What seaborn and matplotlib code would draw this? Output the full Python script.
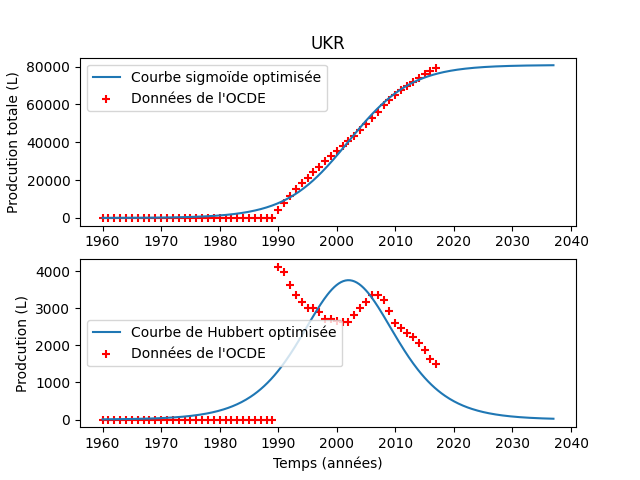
import numpy as np
import pandas as pd
import seaborn as sns
import matplotlib
matplotlib.use("Agg")
import matplotlib.pyplot as plt

# annual production (1990-2017), zero before 1990
YEARS = list(range(1960, 2018))
PROD_1990_2017 = [
    4117, 3982, 3622, 3351, 3171, 3009, 3000, 2900, 2720, 2700,
    2657, 2630, 2630, 2810, 3018, 3171, 3370, 3350, 3216, 2928,
    2604, 2469, 2333, 2225, 2072, 1865, 1640, 1505,
]
PRODUCTION = [0] * 30 + PROD_1990_2017

# fitted logistic parameters
L_MAX = 80800
K_RATE = 0.186
T_PEAK = 2002

data = pd.DataFrame({"annee": YEARS, "production": PRODUCTION})
data["cumul"] = np.cumsum(data["production"])

t = np.linspace(1960, 2037, 400)
expo = np.exp(-K_RATE * (t - T_PEAK))
model = pd.DataFrame({
    "annee": t,
    "sigmoide": L_MAX / (1 + expo),
    "hubbert": L_MAX * K_RATE * expo / (1 + expo) ** 2,
})

fig, (ax1, ax2) = plt.subplots(2, 1, figsize=(6.4, 4.8), dpi=100)

sns.lineplot(data=model, x="annee", y="sigmoide", ax=ax1, color="#1f77b4",
             linewidth=1.5, label="Courbe sigmoïde optimisée")
sns.scatterplot(data=data, x="annee", y="cumul", ax=ax1, color="red",
                edgecolor="red", marker="+", s=40, linewidth=1.5,
                label="Données de l'OCDE")
ax1.set_title("UKR")
ax1.set_xlabel("")
ax1.set_ylabel("Prodcution totale (L)")
ax1.legend(loc="upper left")

sns.lineplot(data=model, x="annee", y="hubbert", ax=ax2, color="#1f77b4",
             linewidth=1.5, label="Courbe de Hubbert optimisée")
sns.scatterplot(data=data, x="annee", y="production", ax=ax2, color="red",
                edgecolor="red", marker="+", s=40, linewidth=1.5,
                label="Données de l'OCDE")
ax2.set_xlabel("Temps (années)")
ax2.set_ylabel("Prodcution (L)")
ax2.legend(loc="center left")

for ax in (ax1, ax2):
    ax.set_xticks(range(1960, 2041, 10))

plt.savefig("out.png")
